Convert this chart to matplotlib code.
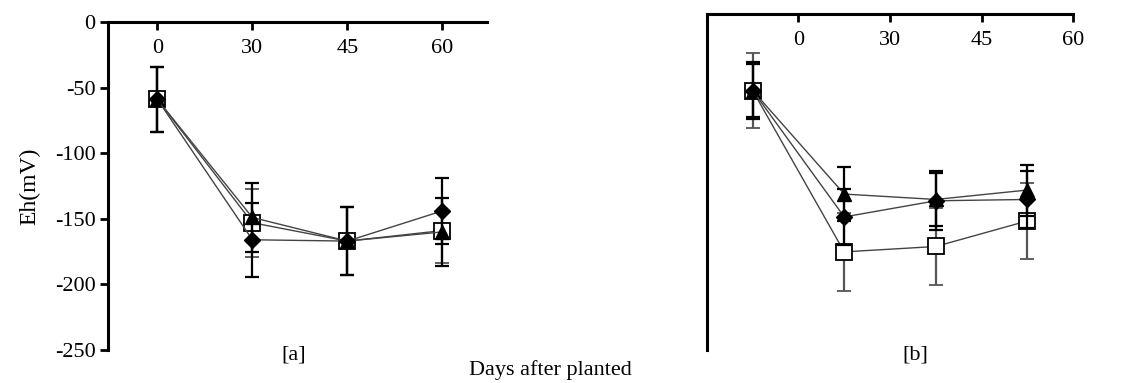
import numpy as np
import matplotlib
matplotlib.use('Agg')
from matplotlib import pyplot as plt

plt.rcParams['font.family'] = ['Liberation Serif', 'DejaVu Serif']
plt.rcParams['axes.unicode_minus'] = False

days = ['0', '30', '45', '60']

# panel [a]
a_diamond = [-59, -166, -167, -144]
a_diamond_err = [25, 28, 26, 25]
a_triangle = [-59, -149, -167, -160]
a_triangle_err = [25, 26, 26, 26]
a_square = [-59, -153, -167, -159]
a_square_err = [25, 26, 26, 25]

# panel [b]
b_diamond = [-57, -151, -139, -138]
b_diamond_err = [21, 21, 22, 21]
b_triangle = [-57, -134, -138, -131]
b_triangle_err = [20, 20, 20, 19]
b_square = [-57, -177, -173, -154]
b_square_err = [28, 29, 29, 28]

fig = plt.figure(figsize=(11.27, 3.83), dpi=100)
ax_a = fig.add_axes([0.0958, 0.0862, 0.3363, 0.8564])
ax_b = fig.add_axes([0.6273, 0.0862, 0.3248, 0.8773])

fs = 16
x = np.arange(len(days))


def draw(ax, sq, sq_e, tr, tr_e, di, di_e):
    ax.errorbar(x, sq, yerr=sq_e, color='#444444', lw=1.0, ecolor='#555555',
                elinewidth=1.6, capsize=5, capthick=1.6, marker='s', ms=12,
                mfc='white', mec='black', mew=1.3, zorder=3)
    ax.errorbar(x, tr, yerr=tr_e, color='#444444', lw=1.0, ecolor='black',
                elinewidth=1.6, capsize=5, capthick=1.6, marker='^', ms=10,
                mfc='black', mec='black', zorder=4)
    ax.errorbar(x, di, yerr=di_e, color='#444444', lw=1.0, ecolor='black',
                elinewidth=1.6, capsize=5, capthick=1.6, marker='D', ms=8,
                mfc='black', mec='black', zorder=5)
    ax.set_ylim(-250, 0)
    for s in ['right', 'bottom']:
        ax.spines[s].set_visible(False)
    for s in ['left', 'top']:
        ax.spines[s].set_linewidth(2.2)
    ax.xaxis.set_ticks_position('top')
    ax.tick_params(axis='x', direction='in', length=6, width=2,
                   labeltop=True, labelbottom=False, pad=-26, labelsize=fs)


draw(ax_a, a_square, a_square_err, a_triangle, a_triangle_err, a_diamond, a_diamond_err)
ax_a.set_xlim(-0.52, 3.47)
ax_a.set_xticks(x)
ax_a.set_xticklabels(days)
ax_a.set_yticks(np.arange(-250, 1, 50))
ax_a.tick_params(axis='y', direction='out', length=6, width=2, labelsize=fs, pad=3)
ax_a.set_ylabel('Eh(mV)', fontsize=fs + 1, labelpad=10)
ax_a.text(0.49, -0.015, '[a]', transform=ax_a.transAxes, ha='center', va='center',
          fontsize=fs)

draw(ax_b, b_square, b_square_err, b_triangle, b_triangle_err, b_diamond, b_diamond_err)
ax_b.set_xlim(-0.5, 3.5)
ax_b.set_xticks(x + 0.5)
ax_b.set_xticklabels(days)
ax_b.set_yticks([])
ax_b.text(0.57, -0.015, '[b]', transform=ax_b.transAxes, ha='center', va='center',
          fontsize=fs)

fig.text(0.488, 0.035, 'Days after planted', ha='center', va='center', fontsize=fs)

fig.savefig('out.png', dpi=100)
